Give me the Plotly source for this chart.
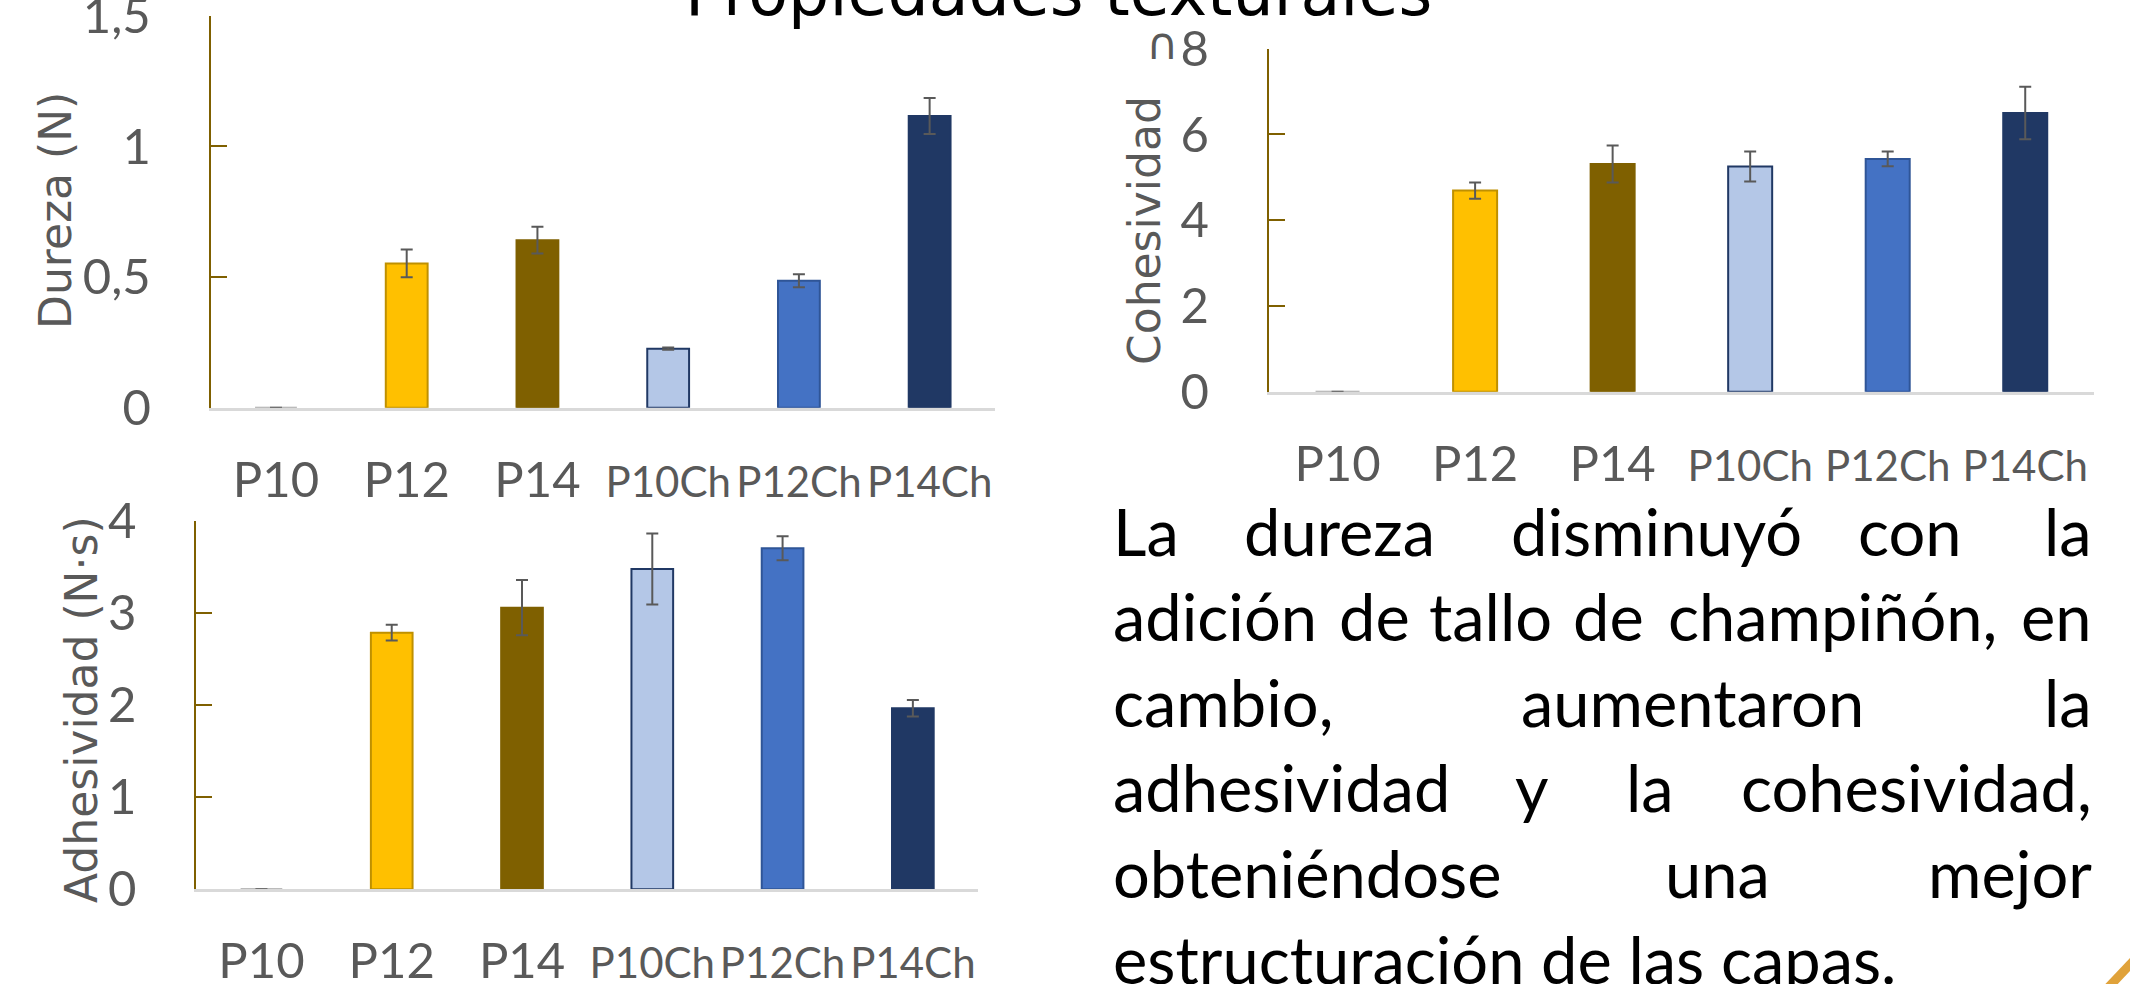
import plotly.graph_objects as go

# ---------------- data ----------------
categories = ["P10", "P12", "P14", "P10Ch", "P12Ch", "P14Ch"]
tick_labels = ["P10", "P12", "P14",
               "<span style='font-size:42px'>P10Ch</span>",
               "<span style='font-size:42px'>P12Ch</span>",
               "<span style='font-size:42px'>P14Ch</span>"]

dureza = [0.0, 0.552, 0.641, 0.226, 0.486, 1.116]
dureza_err = [0.0, 0.053, 0.051, 0.004, 0.025, 0.069]

cohesividad = [0.0, 4.69, 5.31, 5.25, 5.43, 6.50]
cohesividad_err = [0.0, 0.19, 0.43, 0.35, 0.17, 0.61]

adhesividad = [0.0, 2.785, 3.056, 3.476, 3.70, 1.964]
adhesividad_err = [0.0, 0.085, 0.30, 0.385, 0.13, 0.09]

dureza_tickvals = [0, 0.5, 1, 1.5]
dureza_ticktext = ["0", "0,5", "1", "1,5"]
cohes_tickvals = [0, 2, 4, 6, 8]
adhes_tickvals = [0, 1, 2, 3, 4]

axis_titles = ["Dureza (N)", "Cohesividad", "Adhesividad (N·s)"]

bar_colors = ["#A5A5A5", "#FFC000", "#7F6000", "#B4C7E7", "#4472C4", "#203864"]
bar_lines = ["#A5A5A5", "#BF9000", "#7F6000", "#203864", "#2F5597", "#203864"]

paragraph = [
    [("La", "left", 1111), ("dureza", "center", 1339), ("disminuyó", "center", 1656),
     ("con", "center", 1910), ("la", "right", 2094)],
    [("adición", "left", 1111), ("de", "center", 1374), ("tallo", "center", 1490),
     ("de", "center", 1608), ("champiñón,", "center", 1832), ("en", "right", 2094)],
    [("cambio,", "left", 1111), ("aumentaron", "center", 1692), ("la", "right", 2094)],
    [("adhesividad", "left", 1111), ("y", "center", 1532), ("la", "center", 1650),
     ("cohesividad,", "right", 2094)],
    [("obteniéndose", "left", 1111), ("una", "center", 1717), ("mejor", "right", 2094)],
    [("estructuración de las capas.", "left", 1111)],
]
baselines = [556, 641, 727, 812, 898, 984]

# ---------------- layout helpers ----------------
W, H = 2130, 984


def px(x):
    return x / W


def py(y):
    return 1 - y / H


TICK_FONT = dict(family="Lato, Calibri, sans-serif", size=49, color="#595959")
TITLE_FONT = dict(family="DejaVu Sans, sans-serif", size=44, color="#595959")

fig = go.Figure()

datasets = [
    (dureza, dureza_err, "x", "y"),
    (cohesividad, cohesividad_err, "x2", "y2"),
    (adhesividad, adhesividad_err, "x3", "y3"),
]
for vals, errs, xa, ya in datasets:
    fig.add_trace(go.Bar(
        x=categories, y=vals, xaxis=xa, yaxis=ya,
        width=0.32,
        marker=dict(color=bar_colors, line=dict(color=bar_lines, width=2)),
        error_y=dict(type="data", array=errs, visible=True,
                     color="#595959", thickness=2, width=6),
        showlegend=False, hoverinfo="x+y",
    ))


def xaxis_cfg(x0, x1, anchor):
    return dict(
        domain=[px(x0), px(x1)], anchor=anchor, type="category",
        categoryorder="array", categoryarray=categories,
        range=[-0.5, 5.5], tickvals=categories, ticktext=tick_labels,
        showline=True, linecolor="#D9D9D9", linewidth=3,
        ticks="", showgrid=False, zeroline=False,
        tickfont=TICK_FONT, ticklabelstandoff=27, automargin=False,
        ticklabeloverflow="allow",
    )


def yaxis_cfg(y_bottom, y_top, anchor, rng, tickvals, ticktext):
    return dict(
        domain=[py(y_bottom), py(y_top)], anchor=anchor, range=rng,
        tickvals=tickvals, ticktext=ticktext,
        showline=True, linecolor="#7F6000", linewidth=2,
        ticks="inside", ticklen=16, tickwidth=2, tickcolor="#7F6000",
        showgrid=False, zeroline=False,
        tickfont=TICK_FONT, ticklabelstandoff=48, automargin=False,
        ticklabeloverflow="allow",
    )


fig.update_layout(
    width=W, height=H,
    margin=dict(l=0, r=0, t=0, b=0),
    paper_bgcolor="white", plot_bgcolor="rgba(0,0,0,0)",
    xaxis=xaxis_cfg(210.6, 995, "y"),
    yaxis=yaxis_cfg(407.7, 15.7, "x", [0, 1.5], dureza_tickvals, dureza_ticktext),
    xaxis2=xaxis_cfg(1268.8, 2094, "y2"),
    yaxis2=yaxis_cfg(391.7, 48.7, "x2", [0, 8], cohes_tickvals,
                     [str(v) for v in cohes_tickvals]),
    xaxis3=xaxis_cfg(196.3, 978, "y3"),
    yaxis3=yaxis_cfg(889.3, 520.7, "x3", [0, 4], adhes_tickvals,
                     [str(v) for v in adhes_tickvals]),
)

annotations = []
# vertical axis titles
for title, (cx, cy) in zip(axis_titles, [(56, 211), (1144, 231), (81, 710)]):
    annotations.append(dict(
        text=title, x=px(cx), y=py(cy), xref="paper", yref="paper",
        xanchor="center", yanchor="middle", textangle=-90, showarrow=False,
        font=TITLE_FONT,
    ))
# slide title, mostly cut off at the top edge
annotations.append(dict(
    text="Propiedades texturales", x=px(1058), y=py(32), xref="paper", yref="paper",
    xanchor="center", yanchor="bottom", showarrow=False,
    font=dict(family="DejaVu Sans, sans-serif", size=65, color="#000000"),
))
# clipped glyph next to the top tick of the cohesividad axis
annotations.append(dict(
    text="∩", x=px(1162), y=py(44), xref="paper", yref="paper",
    xanchor="center", yanchor="middle", showarrow=False,
    font=dict(family="DejaVu Sans, sans-serif", size=44, color="#595959"),
))

PARA_SIZE = 65
for line, base in zip(paragraph, baselines):
    for word, anchor, xpos in line:
        annotations.append(dict(
            text=word, x=px(xpos), y=py(base + 0.213 * PARA_SIZE + 2),
            xref="paper", yref="paper", xanchor=anchor, yanchor="bottom",
            showarrow=False,
            font=dict(family="Lato, Calibri, sans-serif", size=PARA_SIZE, color="#000000"),
        ))

fig.update_layout(annotations=annotations)

# decorative corner stroke of the slide
fig.add_shape(type="line", xref="paper", yref="paper",
              x0=px(2104), y0=py(992), x1=px(2138), y1=py(956),
              line=dict(color="#E0A23A", width=9))

fig.write_html("out.html", config={"displayModeBar": False},
               post_script="document.body.style.margin='0';")
